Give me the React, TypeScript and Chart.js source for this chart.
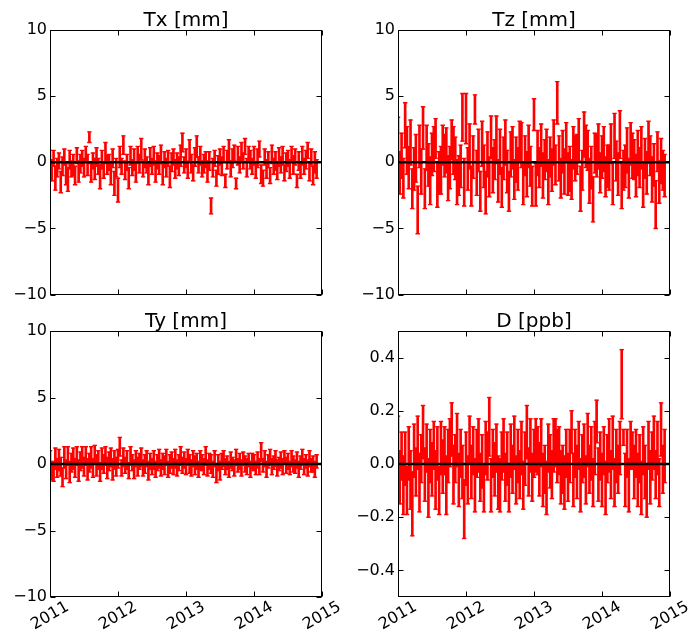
import React, { useEffect, useRef } from "react";
import { Chart, registerables } from "chart.js";

Chart.register(...registerables);

// ---- data -------------------------------------------------------------
const START_YEAR = 2011;
const STEP_YEARS = 1 / 38; // sampling interval of the solutions (years)
const X_MIN = 2011;
const X_MAX = 2015;
const X_TICKS = [2011, 2012, 2013, 2014, 2015];
const X_LABELS = ["2011", "2012", "2013", "2014", "2015"];
const MM_TICKS = [-10, -5, 0, 5, 10];
const MM_LABELS = ["\u221210", "\u22125", "0", "5", "10"];
const PPB_TICKS = [-0.4, -0.2, 0, 0.2, 0.4];
const PPB_LABELS = ["\u22120.4", "\u22120.2", "0.0", "0.2", "0.4"];

const txValues = [
  0.2, -0.6, 0.3, -1.2, -0.4, 0.1, -1.5, -0.3, 0.4, -0.9, -1.3, 0.2, -0.5, -0.2, -1.0, 0.5, -0.7, -0.1, 0.3,
  -0.4, 0.6, -0.2, 1.9, -0.8, 0.1, -0.5, 0.4, -0.3, -1.1, 0.2, -0.6, 0.7, -0.2, 0.0, -0.9, 0.3, -1.6, -0.4,
  -2.1, 0.4, -0.3, 1.3, -0.6, 0.0, -1.2, 0.5, -0.4, 0.2, -0.8, 0.6, -0.1, 1.0, -0.5, 0.3, -0.2, -0.9, 0.4,
  -0.3, 0.5, -0.7, 0.1, -0.2, 0.6, -0.9, 0.2, -0.4, 0.3, -1.1, 0.0, 0.4, -0.5, 0.1, -0.3, 0.5, 1.5, -0.2,
  0.3, -0.6, 0.9, -0.1, -0.8, 0.4, 1.2, -0.2, 0.5, -0.5, -0.1, 0.2, -0.7, 0.1, -3.3, -0.4, 0.3, -1.2, -0.2,
  0.4, -0.3, 0.6, -1.4, 0.2, 0.9, -0.5, 0.3, 0.7, -1.6, 0.5, -0.2, 0.8, 0.1, 1.2, -0.4, 0.6, 0.2, -0.3,
  0.5, -0.6, 0.3, 1.0, -0.9, -1.2, 0.4, -0.5, 0.2, -1.0, 0.6, -0.3, 0.1, -0.7, 0.4, -0.2, 0.5, -0.8, 0.0,
  0.3, -0.5, 0.6, -0.2, 0.4, -1.4, 0.1, -0.6, 0.5, -0.3, 0.2, 0.9, -0.7, 0.4, -1.0, 0.0, -0.5,
];
const txErrors = [
  0.7, 0.8, 0.6, 0.9, 0.7, 0.6, 0.8, 0.7, 0.6, 0.8, 0.9, 0.7, 0.6, 0.8, 0.7, 0.6, 0.8, 0.7, 0.6,
  0.7, 0.6, 0.8, 0.4, 0.7, 0.6, 0.8, 0.7, 0.6, 0.9, 0.7, 0.6, 0.8, 0.7, 0.6, 0.8, 0.7, 0.9, 0.7,
  0.9, 0.8, 0.6, 0.7, 0.7, 0.6, 0.8, 0.7, 0.6, 0.8, 0.7, 0.6, 0.7, 0.8, 0.6, 0.7, 0.6, 0.8, 0.7,
  0.6, 0.7, 0.8, 0.6, 0.7, 0.7, 0.8, 0.6, 0.7, 0.6, 0.8, 0.7, 0.6, 0.7, 0.6, 0.7, 0.8, 0.7, 0.6,
  0.7, 0.6, 0.8, 0.7, 0.6, 0.7, 0.8, 0.6, 0.7, 0.6, 0.7, 0.6, 0.8, 0.7, 0.6, 0.7, 0.6, 0.6, 0.7,
  0.6, 0.7, 0.6, 0.5, 0.7, 0.8, 0.6, 0.7, 0.6, 0.4, 0.7, 0.6, 0.7, 0.6, 0.6, 0.7, 0.6, 0.7, 0.6,
  0.7, 0.6, 0.7, 0.6, 0.7, 0.6, 0.6, 0.7, 0.6, 0.6, 0.7, 0.6, 0.7, 0.6, 0.7, 0.6, 0.7, 0.6, 0.7,
  0.6, 0.7, 0.6, 0.7, 0.6, 0.5, 0.7, 0.6, 0.7, 0.6, 0.7, 0.6, 0.7, 0.6, 0.7, 0.8, 0.7,
];

const tzValues = [
  1.6, -0.8, 0.5, -1.2, 2.8, 0.9, -0.4, 1.5, -2.0, -0.5, 0.3, -3.6, 1.2, -0.7, 2.6, -2.0, 1.1, -0.2, -1.4,
  0.6, 1.0, 1.8, -1.7, -0.8, -0.6, 1.3, 0.5, 0.9, -1.2, -0.4, 1.7, 0.9, 0.3, -1.5, -1.0, -0.3, 3.4, -1.5,
  3.3, -0.5, 1.2, -1.8, 0.4, 4.0, -0.8, 0.9, -2.2, 1.4, -0.3, -2.3, 0.6, -1.1, 1.9, -0.6, 0.2, 1.7, -1.4,
  0.8, -1.9, 0.3, 1.5, -0.7, -2.2, 0.6, 1.1, -1.3, 0.2, -0.5, 1.6, 1.3, -1.6, 0.5, -0.9, 1.2, -0.3, -1.8,
  3.6, -1.7, 0.7, -0.4, 1.3, -1.0, 0.2, 0.9, -1.5, 0.4, -0.6, 1.5, -0.2, 4.5, 0.3, -1.2, 0.8, -0.7, 1.5,
  -0.9, -0.5, -1.3, 1.1, 0.3, 0.6, 1.7, -2.0, -0.6, 2.1, 1.2, 0.9, -1.4, -0.4, -2.8, 0.7, 0.5, 1.2, -0.8,
  0.4, 1.0, -1.1, -0.3, -0.4, 1.4, -1.6, 2.0, 0.1, -0.9, 2.1, -1.8, -0.6, -0.3, 0.9, -1.2, 1.4, 0.5, 0.2,
  -1.0, 0.7, -0.4, 1.1, -1.7, 0.3, -0.8, 1.5, 0.5, -1.3, -0.2, -3.2, 0.8, -1.5, 0.1, -0.6, -1.0,
];
const tzErrors = [
  1.8, 1.6, 1.7, 1.5, 1.7, 1.8, 1.6, 1.7, 1.5, 1.6, 1.8, 1.8, 1.6, 1.7, 1.6, 1.5, 1.7, 1.6, 1.8,
  1.6, 1.7, 1.5, 1.7, 1.6, 1.8, 1.5, 1.6, 1.7, 1.7, 1.6, 1.5, 1.8, 1.6, 1.7, 1.5, 1.6, 1.8, 1.8,
  1.9, 1.6, 1.7, 1.5, 1.6, 1.1, 1.7, 1.6, 1.5, 1.7, 1.6, 1.6, 1.7, 1.5, 1.6, 1.7, 1.5, 1.8, 1.6,
  1.7, 1.5, 1.6, 1.7, 1.6, 1.5, 1.7, 1.6, 1.5, 1.7, 1.6, 1.5, 1.7, 1.6, 1.5, 1.7, 1.6, 1.5, 1.5,
  1.2, 1.6, 1.7, 1.5, 1.6, 1.7, 1.5, 1.6, 1.7, 1.5, 1.6, 1.7, 1.5, 1.6, 1.7, 1.5, 1.6, 1.7, 1.5,
  1.6, 1.7, 1.5, 1.6, 1.7, 1.5, 1.6, 1.7, 1.5, 1.7, 1.6, 1.5, 1.7, 1.6, 1.7, 1.5, 1.6, 1.7, 1.5,
  1.6, 1.7, 1.5, 1.6, 1.7, 1.5, 1.6, 1.7, 1.5, 1.6, 1.8, 1.7, 1.5, 1.6, 1.7, 1.5, 1.6, 1.7, 1.5,
  1.6, 1.7, 1.5, 1.6, 1.7, 1.5, 1.6, 1.6, 1.5, 1.7, 1.6, 1.8, 1.5, 1.6, 1.7, 1.5, 1.6,
];

const tyValues = [
  0.2, -0.5, -0.6, 0.4, -0.3, 0.3, -0.2, -1.0, 0.5, -0.4, 0.6, -0.6, 0.1, 0.4, -0.3, 0.6, -0.5, 0.2, 0.5,
  -0.2, 0.6, -0.4, 0.1, 0.5, -0.3, 0.7, -0.1, 0.3, -0.6, 0.4, 0.0, 0.6, -0.3, 0.2, 0.5, -0.4, 0.3, -0.2,
  0.4, 1.3, -0.3, 0.5, -0.1, 0.3, -0.5, 0.6, 0.1, -0.4, 0.4, -0.2, 0.2, 0.5, -0.3, 0.0, 0.4, -0.5, 0.2,
  -0.2, 0.3, -0.4, 0.1, 0.4, -0.3, 0.2, -0.1, 0.5, -0.4, 0.0, 0.3, -0.2, 0.4, -0.3, 0.1, 0.6, -0.1, 0.3,
  -0.2, 0.5, 0.0, -0.3, 0.4, -0.1, 0.2, -0.4, 0.3, 0.1, -0.2, 0.6, -0.3, 0.2, 0.0, -0.4, 0.4, -0.7, 0.1,
  -0.5, 0.2, 0.4, -0.2, 0.1, -0.4, 0.3, 0.0, -0.3, 0.5, -0.1, 0.2, -0.3, 0.4, 0.0, -0.2, 0.3, -0.4, 0.2,
  0.1, -0.3, 0.3, -0.2, 0.9, -0.1, 0.4, -0.4, 0.2, 0.5, -0.2, 0.1, 0.4, -0.3, 0.0, 0.3, -0.2, 0.5, -0.1,
  0.2, -0.3, 0.4, 0.0, -0.2, 0.3, -0.4, 0.1, 0.5, -0.2, 0.2, -0.3, 0.4, -0.1, 0.0, -0.4, 0.2,
];
const tyErrors = [
  0.8, 0.7, 0.7, 0.8, 0.7, 0.8, 0.7, 0.7, 0.8, 0.7, 0.7, 0.8, 0.7, 0.8, 0.7, 0.7, 0.8, 0.7, 0.8,
  0.7, 0.7, 0.8, 0.7, 0.8, 0.7, 0.7, 0.8, 0.7, 0.7, 0.8, 0.7, 0.7, 0.8, 0.7, 0.7, 0.8, 0.7, 0.7,
  0.7, 0.7, 0.6, 0.7, 0.6, 0.7, 0.6, 0.7, 0.6, 0.7, 0.6, 0.7, 0.6, 0.7, 0.6, 0.7, 0.6, 0.7, 0.6,
  0.6, 0.7, 0.6, 0.6, 0.7, 0.6, 0.6, 0.7, 0.6, 0.6, 0.7, 0.6, 0.6, 0.7, 0.6, 0.6, 0.7, 0.6, 0.6,
  0.6, 0.6, 0.7, 0.6, 0.6, 0.7, 0.6, 0.6, 0.7, 0.6, 0.6, 0.7, 0.6, 0.6, 0.7, 0.6, 0.6, 0.7, 0.6,
  0.7, 0.6, 0.6, 0.6, 0.5, 0.6, 0.6, 0.5, 0.6, 0.6, 0.5, 0.6, 0.6, 0.5, 0.6, 0.6, 0.5, 0.6, 0.6,
  0.6, 0.5, 0.6, 0.6, 0.7, 0.5, 0.6, 0.6, 0.5, 0.6, 0.6, 0.5, 0.6, 0.6, 0.5, 0.6, 0.6, 0.5, 0.6,
  0.6, 0.5, 0.6, 0.6, 0.5, 0.6, 0.6, 0.5, 0.6, 0.6, 0.5, 0.6, 0.6, 0.5, 0.6, 0.6, 0.5,
];

const dValues = [
  0.06, -0.05, 0.03, -0.08, 0.02, -0.10, 0.04, -0.06, -0.15, 0.05, -0.03, 0.08, -0.07, 0.02, 0.12, -0.04, 0.06, -0.09, 0.03,
  -0.02, 0.07, -0.06, 0.04, -0.10, 0.06, -0.01, 0.05, -0.08, 0.03, 0.08, 0.13, -0.04, 0.02, 0.09, -0.06, 0.04, -0.03, -0.17,
  0.02, -0.06, 0.09, -0.03, 0.05, -0.08, 0.04, 0.07, -0.05, 0.01, -0.09, 0.06, 0.03, 0.14, -0.08, 0.04, -0.02, 0.06, -0.07,
  -0.08, 0.03, 0.07, -0.05, 0.02, -0.09, 0.05, -0.02, 0.08, -0.06, 0.03, -0.04, 0.06, -0.08, 0.02, 0.12, -0.03, 0.07, -0.05,
  0.04, 0.07, 0.05, -0.02, 0.08, -0.06, -0.02, -0.09, 0.06, 0.01, -0.04, 0.07, 0.08, 0.03, 0.05, -0.05, -0.02, -0.07, 0.04,
  -0.05, 0.03, 0.12, -0.06, 0.04, -0.03, 0.07, -0.08, 0.02, 0.05, -0.06, 0.09, -0.02, 0.04, -0.07, 0.06, 0.16, -0.04, 0.03,
  -0.06, 0.05, -0.09, 0.02, 0.07, -0.04, 0.08, -0.07, 0.03, -0.02, 0.06, 0.30, 0.10, -0.06, 0.04, -0.08, 0.07, 0.05, -0.03,
  0.04, -0.06, 0.02, -0.09, 0.05, -0.03, -0.10, 0.07, -0.05, 0.03, 0.08, -0.04, 0.06, -0.07, 0.13, -0.02, 0.03,
];
const dErrors = [
  0.12, 0.10, 0.09, 0.11, 0.10, 0.09, 0.10, 0.11, 0.12, 0.10, 0.09, 0.10, 0.11, 0.09, 0.10, 0.10, 0.09, 0.11, 0.10,
  0.10, 0.09, 0.11, 0.10, 0.09, 0.10, 0.10, 0.09, 0.11, 0.10, 0.09, 0.10, 0.11, 0.09, 0.10, 0.10, 0.09, 0.10, 0.11,
  0.10, 0.09, 0.09, 0.10, 0.09, 0.10, 0.09, 0.10, 0.09, 0.10, 0.09, 0.10, 0.09, 0.11, 0.10, 0.09, 0.10, 0.09, 0.10,
  0.10, 0.09, 0.10, 0.09, 0.10, 0.09, 0.10, 0.09, 0.10, 0.09, 0.10, 0.09, 0.10, 0.09, 0.10, 0.10, 0.09, 0.10, 0.09,
  0.09, 0.10, 0.09, 0.10, 0.09, 0.10, 0.09, 0.10, 0.09, 0.10, 0.09, 0.10, 0.09, 0.10, 0.09, 0.10, 0.09, 0.10, 0.09,
  0.09, 0.10, 0.08, 0.10, 0.09, 0.10, 0.09, 0.10, 0.09, 0.10, 0.09, 0.10, 0.09, 0.10, 0.09, 0.10, 0.08, 0.10, 0.09,
  0.10, 0.09, 0.10, 0.09, 0.10, 0.09, 0.10, 0.09, 0.10, 0.09, 0.10, 0.13, 0.03, 0.10, 0.09, 0.10, 0.09, 0.07, 0.10,
  0.09, 0.10, 0.09, 0.10, 0.09, 0.10, 0.10, 0.09, 0.10, 0.09, 0.10, 0.09, 0.10, 0.09, 0.10, 0.09, 0.10,
];

const epochs = txValues.map((_, i) => START_YEAR + i * STEP_YEARS);

// ---- panel ------------------------------------------------------------
type PanelProps = {
  left: number;
  top: number;
  width: number;
  height: number;
  area: { left: number; top: number; right: number; bottom: number };
  title: string;
  values: number[];
  errors: number[];
  yMin: number;
  yMax: number;
  yTicks: number[];
  yLabels: string[];
  showX: boolean;
};

const FONT = '"DejaVu Sans", "Liberation Sans", sans-serif';

function Panel(p: PanelProps) {
  const ref = useRef<HTMLCanvasElement>(null);
  useEffect(() => {
    const canvas = ref.current;
    if (!canvas) return;
    const bars = p.values.map((v, i) => ({ x: epochs[i], y: [v - p.errors[i], v + p.errors[i]] }));
    const caps: { x: number; y: number }[] = [];
    p.values.forEach((v, i) => {
      caps.push({ x: epochs[i], y: v - p.errors[i] });
      caps.push({ x: epochs[i], y: v + p.errors[i] });
    });

    const decor = {
      id: "decor",
      afterDraw(chart: any) {
        const { ctx, chartArea: a, scales } = chart;
        const xs = scales.x;
        const ys = scales.y;
        ctx.save();
        ctx.strokeStyle = "#000";
        ctx.lineWidth = 1;
        const L = Math.round(a.left) + 0.5;
        const R = Math.round(a.right) - 0.5;
        const T = Math.round(a.top) + 0.5;
        const B = Math.round(a.bottom) - 0.5;
        ctx.strokeRect(L, T, R - L, B - T);
        const TL = 5;
        ctx.beginPath();
        X_TICKS.forEach((t) => {
          const px = Math.round(xs.getPixelForValue(t)) + 0.5;
          ctx.moveTo(px, B);
          ctx.lineTo(px, B - TL);
          ctx.moveTo(px, T);
          ctx.lineTo(px, T + TL);
        });
        p.yTicks.forEach((t) => {
          const py = Math.round(ys.getPixelForValue(t)) + 0.5;
          ctx.moveTo(L, py);
          ctx.lineTo(L + TL, py);
          ctx.moveTo(R, py);
          ctx.lineTo(R - TL, py);
        });
        ctx.stroke();

        ctx.fillStyle = "#000";
        ctx.font = `16px ${FONT}`;
        ctx.textAlign = "right";
        ctx.textBaseline = "middle";
        p.yTicks.forEach((t, i) => {
          ctx.fillText(p.yLabels[i], a.left - 3, ys.getPixelForValue(t));
        });

        if (p.showX) {
          ctx.textAlign = "center";
          ctx.textBaseline = "middle";
          X_TICKS.forEach((t, i) => {
            const px = xs.getPixelForValue(t);
            ctx.save();
            ctx.translate(px, a.bottom + 19);
            ctx.rotate(-Math.PI / 6);
            ctx.fillText(X_LABELS[i], 0, 0);
            ctx.restore();
          });
        }

        ctx.font = `20px ${FONT}`;
        ctx.textAlign = "center";
        ctx.textBaseline = "alphabetic";
        ctx.fillText(p.title, (a.left + a.right) / 2, a.top - 4);
        ctx.restore();
      },
    };

    const chart = new Chart(canvas, {
      type: "bar",
      data: {
        datasets: [
          {
            type: "line",
            data: [
              { x: X_MIN, y: 0 },
              { x: X_MAX, y: 0 },
            ],
            borderColor: "#000",
            borderWidth: 2.6,
            pointRadius: 0,
            order: 0,
          } as any,
          {
            type: "line",
            data: caps,
            showLine: false,
            pointStyle: "line",
            pointRadius: 2.2,
            pointBorderWidth: 1.4,
            pointBorderColor: "#ff0000",
            pointBackgroundColor: "#ff0000",
            borderColor: "#ff0000",
            order: 1,
          } as any,
          {
            type: "bar",
            data: bars,
            backgroundColor: "#ff0000",
            borderWidth: 0,
            barThickness: 2,
            order: 2,
          } as any,
        ],
      },
      options: {
        responsive: false,
        animation: false,
        devicePixelRatio: 1,
        events: [],
        layout: { padding: { top: p.area.top, right: p.area.right, left: 0, bottom: 0 } },
        plugins: {
          legend: { display: false },
          tooltip: { enabled: false },
          title: { display: false },
        },
        scales: {
          x: {
            type: "linear",
            min: X_MIN,
            max: X_MAX,
            offset: false,
            grid: { display: false, drawTicks: false, offset: false },
            border: { display: false },
            ticks: { display: false },
            afterFit: (s: any) => {
              s.height = p.area.bottom;
            },
          },
          y: {
            type: "linear",
            min: p.yMin,
            max: p.yMax,
            grid: { display: false, drawTicks: false },
            border: { display: false },
            ticks: { display: false },
            afterFit: (s: any) => {
              s.width = p.area.left;
            },
          },
        },
      } as any,
      plugins: [decor],
    });
    return () => chart.destroy();
  }, []);
  return (
    <canvas
      ref={ref}
      width={p.width}
      height={p.height}
      style={{ position: "absolute", left: p.left, top: p.top, width: p.width, height: p.height }}
    />
  );
}

export default function App() {
  return (
    <div style={{ position: "fixed", left: 0, top: 0, width: 692, height: 635, background: "#fff" }}>
      <Panel
        left={0}
        top={0}
        width={346}
        height={300}
        area={{ left: 50, top: 30, right: 24, bottom: 3 }}
        title="Tx [mm]"
        values={txValues}
        errors={txErrors}
        yMin={-10}
        yMax={10}
        yTicks={MM_TICKS}
        yLabels={MM_LABELS}
        showX={false}
      />
      <Panel
        left={346}
        top={0}
        width={346}
        height={300}
        area={{ left: 52, top: 30, right: 22, bottom: 3 }}
        title="Tz [mm]"
        values={tzValues}
        errors={tzErrors}
        yMin={-10}
        yMax={10}
        yTicks={MM_TICKS}
        yLabels={MM_LABELS}
        showX={false}
      />
      <Panel
        left={0}
        top={300}
        width={346}
        height={335}
        area={{ left: 50, top: 31, right: 24, bottom: 38 }}
        title="Ty [mm]"
        values={tyValues}
        errors={tyErrors}
        yMin={-10}
        yMax={10}
        yTicks={MM_TICKS}
        yLabels={MM_LABELS}
        showX={true}
      />
      <Panel
        left={346}
        top={300}
        width={346}
        height={335}
        area={{ left: 52, top: 31, right: 22, bottom: 38 }}
        title="D [ppb]"
        values={dValues}
        errors={dErrors}
        yMin={-0.5}
        yMax={0.5}
        yTicks={PPB_TICKS}
        yLabels={PPB_LABELS}
        showX={true}
      />
    </div>
  );
}
